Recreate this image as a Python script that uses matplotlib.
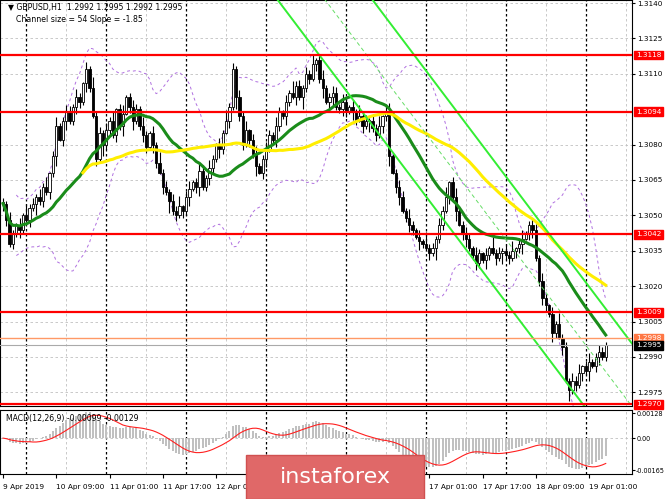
import numpy as np
import pandas as pd
import matplotlib
matplotlib.use("Agg")
import matplotlib.pyplot as plt
from matplotlib.patches import Rectangle

closes = [
1.3055,1.3048,1.3038,1.3042,1.3046,1.3044,1.3050,1.3048,1.3053,1.3055,
1.3058,1.3056,1.3062,1.3060,1.3068,1.3075,1.3088,1.3082,1.3090,1.3094,
1.3090,1.3096,1.3100,1.3098,1.3106,1.3112,1.3104,1.3092,1.3074,1.3085,
1.3080,1.3086,1.3090,1.3084,1.3095,1.3088,1.3093,1.3100,1.3096,1.3090,
1.3095,1.3088,1.3084,1.3079,1.3085,1.3080,1.3072,1.3068,1.3062,1.3060,
1.3056,1.3052,1.3050,1.3054,1.3052,1.3058,1.3061,1.3064,1.3062,1.3069,
1.3062,1.3066,1.3070,1.3074,1.3080,1.3078,1.3085,1.3090,1.3096,1.3112,
1.3100,1.3092,1.3080,1.3086,1.3082,1.3076,1.3071,1.3068,1.3074,1.3078,
1.3084,1.3082,1.3088,1.3094,1.3092,1.3098,1.3102,1.3100,1.3105,1.3100,
1.3104,1.3110,1.3108,1.3114,1.3116,1.3108,1.3104,1.3098,1.3100,1.3102,
1.3096,1.3095,1.3098,1.3094,1.3096,1.3094,1.3090,1.3092,1.3088,1.3090,
1.3090,1.3087,1.3084,1.3088,1.3092,1.3094,1.3075,1.3068,1.3062,1.3058,
1.3052,1.3049,1.3046,1.3044,1.3041,1.3039,1.3038,1.3036,1.3034,1.3036,
1.3040,1.3046,1.3052,1.3058,1.3064,1.3058,1.3052,1.3046,1.3042,1.3040,
1.3036,1.3033,1.3030,1.3034,1.3031,1.3033,1.3036,1.3034,1.3032,1.3034,
1.3035,1.3033,1.3032,1.3035,1.3036,1.3038,1.3040,1.3042,1.3046,1.3044,
1.3032,1.3022,1.3015,1.3012,1.3008,1.3000,1.3004,1.2998,1.2994,1.2980,
1.2976,1.2980,1.2978,1.2983,1.2986,1.2984,1.2988,1.2986,1.2990,1.2992,1.2990,1.2995]
wick_pips = [4,2,6,3,1,5,2,8,3,4,2,5,3,7,1,4,6,2,3,5]

levels_red = [1.3118, 1.3094, 1.3042, 1.3009, 1.2970]
ask_level = 1.2998
bid_level = 1.2995
price_ticks = [1.3140,1.3125,1.3110,1.3080,1.3065,1.3050,1.3035,1.3020,1.3005,1.2990,1.2975]
date_labels = ["9 Apr 2019","10 Apr 09:00","11 Apr 01:00","11 Apr 17:00","12 Apr 09:00",
               "15 Apr 01:00","15 Apr 17:00","16 Apr 09:00","17 Apr 01:00","17 Apr 17:00",
               "18 Apr 09:00","19 Apr 01:00"]
day_sep_bars = [7,31,55,79,103,127,151,175]
chan_a = (83.2, 1.3140)   # lower channel line anchor
chan_b = (111.7, 1.3140)  # upper channel line anchor
chan_slope = -0.000187

FS = 5.2
c = np.array(closes)
n = len(c)
x = np.arange(n)
o = np.concatenate([[c[0]], c[:-1]])
w = np.resize(np.array(wick_pips), n) * 0.0001
wu = w * 0.6
wd = np.roll(w, 3) * 0.6
hi = np.maximum(o, c) + wu
lo = np.minimum(o, c) - wd

fig = plt.figure(figsize=(6.65, 4.99), dpi=100)
R = 632/665
ax = fig.add_axes([0.0, 1 - 406/499, R, 406/499])
mx = fig.add_axes([0.0, 1 - 474/499, R, 64/499])
ymin, ymax = 1.29692, 1.31413
xl = (-0.9, (632 - 3) / 3.33)
for a in (ax, mx):
    a.set_xlim(*xl)
    a.yaxis.tick_right()
    for s_ in a.spines.values():
        s_.set_linewidth(0.8)

ax.set_ylim(ymin, ymax)
for p in price_ticks:
    ax.axhline(p, color='#c0c0c0', ls=(0, (3, 3)), lw=0.6, zorder=0)
for b in day_sep_bars:
    for a in (ax, mx):
        a.axvline(b, color='black', ls=(0, (2, 2)), lw=0.9, zorder=0)
        a.axvline(b + 12, color='#c0c0c0', ls=(0, (3, 3)), lw=0.6, zorder=0)

s = pd.Series(c)
mid = s.rolling(20, min_periods=5).mean()
sd = s.rolling(20, min_periods=5).std()
ax.plot(x, mid + 2 * sd, color='#b070e0', ls=(0, (3, 3)), lw=0.7, zorder=1)
ax.plot(x, mid - 2 * sd, color='#b070e0', ls=(0, (3, 3)), lw=0.7, zorder=1)

for i in range(n):
    ax.vlines(x[i], lo[i], hi[i], color='black', lw=0.8, zorder=3)
    bull = c[i] >= o[i]
    h = max(abs(c[i] - o[i]), 0.00005)
    ax.add_patch(Rectangle((x[i] - 0.35, min(o[i], c[i])), 0.7, h,
                           facecolor='white' if bull else 'black', edgecolor='black', lw=0.6, zorder=4))

ax.plot(x, s.rolling(24, min_periods=1).mean(), color='#1a8c1a', lw=2.2, zorder=5)
ax.plot(x, s.rolling(50, min_periods=25).mean(), color='#ffee00', lw=2.2, zorder=5)

xx = np.array([xl[0], xl[1]])
for (bx, by) in (chan_a, chan_b):
    ax.plot(xx, by + chan_slope * (xx - bx), color='#33ee33', lw=1.4, zorder=6)
mb = (chan_a[0] + chan_b[0]) / 2
ax.plot(xx, 1.3140 + chan_slope * (xx - mb), color='#66dd66', lw=0.7, ls=(0, (4, 3)), zorder=6)

for lv in levels_red:
    ax.axhline(lv, color='#ff0000', lw=1.6, zorder=7)
ax.axhline(ask_level, color='#ff9966', lw=1.0, zorder=7)
ax.axhline(bid_level, color='#aaaaaa', lw=0.8, zorder=7)

ax.set_yticks(price_ticks)
ax.set_yticklabels([f"{p:.4f}" for p in price_ticks], fontsize=FS)
ax.tick_params(axis='y', length=2, pad=1.5)
ax.set_xticks([])

def box(a, val, fc, tc='white'):
    a.text(1.006, val, f"{val:.4f}", transform=a.get_yaxis_transform(), fontsize=FS,
           color=tc, va='center', ha='left', zorder=10,
           bbox=dict(boxstyle='square,pad=0.2', fc=fc, ec=fc), clip_on=False)
for lv in levels_red:
    box(ax, lv, '#ff0000')
box(ax, ask_level, '#ff7744')
box(ax, bid_level, 'black')

ax.text(0.012, 0.993, "▼ GBPUSD,H1  1.2992 1.2995 1.2992 1.2995", transform=ax.transAxes,
        fontsize=5.6, va='top', ha='left', zorder=11)
ax.text(0.025, 0.962, "Channel size = 54 Slope = -1.85", transform=ax.transAxes,
        fontsize=5.6, va='top', ha='left', zorder=11)

ema12 = s.ewm(span=12, adjust=False).mean()
ema26 = s.ewm(span=26, adjust=False).mean()
macd = ema12 - ema26
sig = macd.rolling(9, min_periods=1).mean()
mx.bar(x, macd, width=0.6, color='#c0c0c0', zorder=2)
mx.plot(x, sig, color='#ff2020', lw=0.8, zorder=3)
mx.set_ylim(-0.00185, 0.00145)
mx.axhline(0, color='#c0c0c0', ls=(0, (3, 3)), lw=0.6, zorder=0)
mx.set_yticks([0.00128, 0.0, -0.00165])
mx.set_yticklabels(["0.00128", "0.00", "-0.00165"], fontsize=4.7)
mx.tick_params(axis='y', length=2, pad=1)
mx.set_xticks(np.arange(0, 16 * len(date_labels), 16))
mx.set_xticklabels(date_labels, fontsize=5.3, ha='left')
mx.tick_params(axis='x', length=3, pad=4)
mx.text(0.01, 0.93, "MACD(12,26,9) -0.00099 -0.00129", transform=mx.transAxes,
        fontsize=5.6, va='top', ha='left')

fig.patches.append(Rectangle((246/665, 0), 178/665, 44/499, transform=fig.transFigure,
                             facecolor='#e06868', edgecolor='#d05050', zorder=20))
fig.text(335/665, 22/499, "instaforex", color='white', fontsize=16, ha='center', va='center', zorder=21)

fig.savefig("out.png", dpi=100, facecolor='white')
